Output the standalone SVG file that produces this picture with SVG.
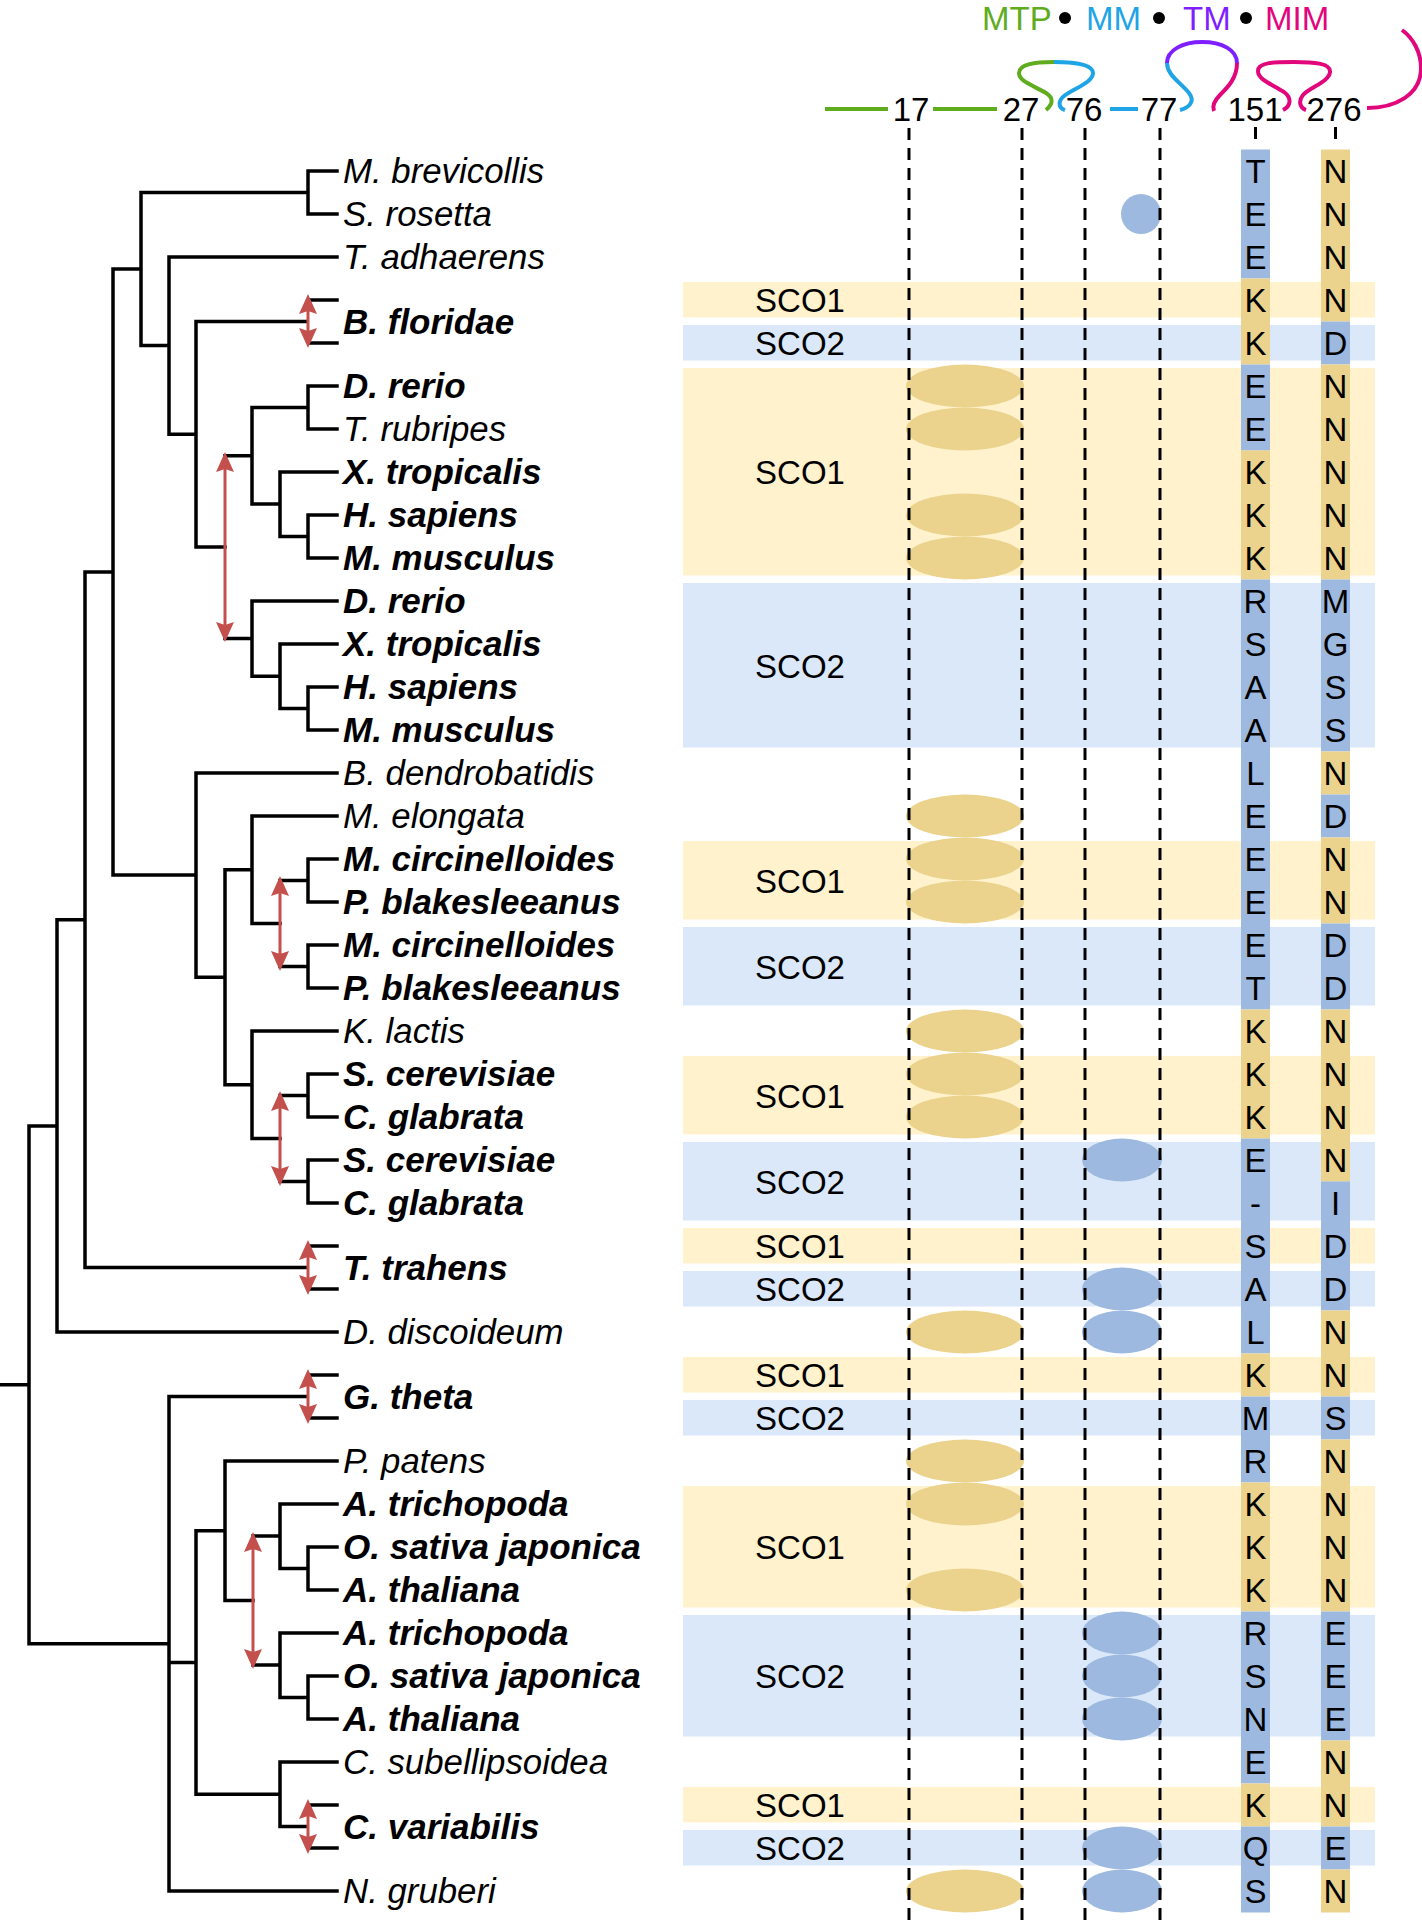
<svg xmlns="http://www.w3.org/2000/svg" width="1422" height="1925" viewBox="0 0 1422 1925">
<defs>
<marker id="ah" viewBox="0 0 20 18" refX="12" refY="9" markerWidth="20" markerHeight="18" markerUnits="userSpaceOnUse" orient="auto-start-reverse">
<path d="M0,0 L20,9 L0,18 L3,9 Z" fill="#c4504d"/>
</marker>
</defs>
<style>
text{font-family:"Liberation Sans",Arial,Helvetica,sans-serif;fill:#000}
.sp{font-size:34.8px;font-style:italic}
.b{font-weight:bold;font-size:35px}
.lab{font-size:33px;text-anchor:middle}
.num{font-size:33px;text-anchor:middle}
.by{fill:#fff2cc}
.bb{fill:#dae8f9}
.cy{fill:#ebd38d}
.cb{fill:#9db9df}
.tree{stroke:#000;stroke-width:3.5;fill:none;stroke-linecap:square}
.arr{stroke:#c4504d;stroke-width:3;fill:none;marker-start:url(#ah);marker-end:url(#ah)}
.dash{stroke:#000;stroke-width:3;stroke-dasharray:12 8;fill:none}
.hd{fill:none;stroke-width:4;stroke-linecap:butt}
.leg{font-size:33px}
</style>
<rect width="1422" height="1925" fill="#fff"/>

<g id="bands">
<rect class="by" x="683" y="282" width="692" height="35.5"/>
<rect class="bb" x="683" y="325" width="692" height="35.5"/>
<rect class="by" x="683" y="368" width="692" height="207.5"/>
<rect class="bb" x="683" y="583" width="692" height="164.5"/>
<rect class="by" x="683" y="841" width="692" height="78.5"/>
<rect class="bb" x="683" y="927" width="692" height="78.5"/>
<rect class="by" x="683" y="1056" width="692" height="78.5"/>
<rect class="bb" x="683" y="1142" width="692" height="78.5"/>
<rect class="by" x="683" y="1228" width="692" height="35.5"/>
<rect class="bb" x="683" y="1271" width="692" height="35.5"/>
<rect class="by" x="683" y="1357" width="692" height="35.5"/>
<rect class="bb" x="683" y="1400" width="692" height="35.5"/>
<rect class="by" x="683" y="1486" width="692" height="121.5"/>
<rect class="bb" x="683" y="1615" width="692" height="121.5"/>
<rect class="by" x="683" y="1787" width="692" height="35.5"/>
<rect class="bb" x="683" y="1830" width="692" height="35.5"/>
</g>

<g id="band-labels" class="lab">
<text x="800" y="312">SCO1</text>
<text x="800" y="355">SCO2</text>
<text x="800" y="484">SCO1</text>
<text x="800" y="677.5">SCO2</text>
<text x="800" y="892.5">SCO1</text>
<text x="800" y="978.5">SCO2</text>
<text x="800" y="1107.5">SCO1</text>
<text x="800" y="1193.5">SCO2</text>
<text x="800" y="1258">SCO1</text>
<text x="800" y="1301">SCO2</text>
<text x="800" y="1387">SCO1</text>
<text x="800" y="1430">SCO2</text>
<text x="800" y="1559">SCO1</text>
<text x="800" y="1688">SCO2</text>
<text x="800" y="1817">SCO1</text>
<text x="800" y="1860">SCO2</text>
</g>

<g id="col151">
<rect class="cb" x="1241" y="149.5" width="29" height="129"/>
<rect class="cy" x="1241" y="278.5" width="29" height="86"/>
<rect class="cb" x="1241" y="364.5" width="29" height="86"/>
<rect class="cy" x="1241" y="450.5" width="29" height="129"/>
<rect class="cb" x="1241" y="579.5" width="29" height="430"/>
<rect class="cy" x="1241" y="1009.5" width="29" height="129"/>
<rect class="cb" x="1241" y="1138.5" width="29" height="215"/>
<rect class="cy" x="1241" y="1353.5" width="29" height="43"/>
<rect class="cb" x="1241" y="1396.5" width="29" height="86"/>
<rect class="cy" x="1241" y="1482.5" width="29" height="129"/>
<rect class="cb" x="1241" y="1611.5" width="29" height="172"/>
<rect class="cy" x="1241" y="1783.5" width="29" height="43"/>
<rect class="cb" x="1241" y="1826.5" width="29" height="86"/>
</g>
<g id="col276">
<rect class="cy" x="1321" y="149.5" width="29" height="172"/>
<rect class="cb" x="1321" y="321.5" width="29" height="43"/>
<rect class="cy" x="1321" y="364.5" width="29" height="215"/>
<rect class="cb" x="1321" y="579.5" width="29" height="172"/>
<rect class="cy" x="1321" y="751.5" width="29" height="43"/>
<rect class="cb" x="1321" y="794.5" width="29" height="43"/>
<rect class="cy" x="1321" y="837.5" width="29" height="86"/>
<rect class="cb" x="1321" y="923.5" width="29" height="86"/>
<rect class="cy" x="1321" y="1009.5" width="29" height="172"/>
<rect class="cb" x="1321" y="1181.5" width="29" height="129"/>
<rect class="cy" x="1321" y="1310.5" width="29" height="86"/>
<rect class="cb" x="1321" y="1396.5" width="29" height="43"/>
<rect class="cy" x="1321" y="1439.5" width="29" height="172"/>
<rect class="cb" x="1321" y="1611.5" width="29" height="129"/>
<rect class="cy" x="1321" y="1740.5" width="29" height="86"/>
<rect class="cb" x="1321" y="1826.5" width="29" height="43"/>
<rect class="cy" x="1321" y="1869.5" width="29" height="43"/>
</g>

<g id="domains">
<ellipse class="cy" cx="965" cy="386" rx="59" ry="21.5"/>
<ellipse class="cy" cx="965" cy="429" rx="59" ry="21.5"/>
<ellipse class="cy" cx="965" cy="515" rx="59" ry="21.5"/>
<ellipse class="cy" cx="965" cy="558" rx="59" ry="21.5"/>
<ellipse class="cy" cx="965" cy="816" rx="59" ry="21.5"/>
<ellipse class="cy" cx="965" cy="859" rx="59" ry="21.5"/>
<ellipse class="cy" cx="965" cy="902" rx="59" ry="21.5"/>
<ellipse class="cy" cx="965" cy="1031" rx="59" ry="21.5"/>
<ellipse class="cy" cx="965" cy="1074" rx="59" ry="21.5"/>
<ellipse class="cy" cx="965" cy="1117" rx="59" ry="21.5"/>
<ellipse class="cy" cx="965" cy="1332" rx="59" ry="21.5"/>
<ellipse class="cy" cx="965" cy="1461" rx="59" ry="21.5"/>
<ellipse class="cy" cx="965" cy="1504" rx="59" ry="21.5"/>
<ellipse class="cy" cx="965" cy="1590" rx="59" ry="21.5"/>
<ellipse class="cy" cx="965" cy="1891" rx="59" ry="21.5"/>
<circle class="cb" cx="1141" cy="214" r="20"/>
<ellipse class="cb" cx="1122" cy="1160" rx="40" ry="21.5"/>
<ellipse class="cb" cx="1122" cy="1289" rx="40" ry="21.5"/>
<ellipse class="cb" cx="1122" cy="1332" rx="40" ry="21.5"/>
<ellipse class="cb" cx="1122" cy="1633" rx="40" ry="21.5"/>
<ellipse class="cb" cx="1122" cy="1676" rx="40" ry="21.5"/>
<ellipse class="cb" cx="1122" cy="1719" rx="40" ry="21.5"/>
<ellipse class="cb" cx="1122" cy="1848" rx="40" ry="21.5"/>
<ellipse class="cb" cx="1122" cy="1891" rx="40" ry="21.5"/>
</g>

<g id="guides">
<path class="dash" d="M909,128 V1925 M1022,128 V1925 M1085,128 V1925 M1160,128 V1925"/>
<path d="M1255.5,127 V139 M1335.5,127 V139" stroke="#000" stroke-width="3"/>
</g>

<g id="residues151" class="num">
<text x="1255.5" y="183">T</text>
<text x="1255.5" y="226">E</text>
<text x="1255.5" y="269">E</text>
<text x="1255.5" y="312">K</text>
<text x="1255.5" y="355">K</text>
<text x="1255.5" y="398">E</text>
<text x="1255.5" y="441">E</text>
<text x="1255.5" y="484">K</text>
<text x="1255.5" y="527">K</text>
<text x="1255.5" y="570">K</text>
<text x="1255.5" y="613">R</text>
<text x="1255.5" y="656">S</text>
<text x="1255.5" y="699">A</text>
<text x="1255.5" y="742">A</text>
<text x="1255.5" y="785">L</text>
<text x="1255.5" y="828">E</text>
<text x="1255.5" y="871">E</text>
<text x="1255.5" y="914">E</text>
<text x="1255.5" y="957">E</text>
<text x="1255.5" y="1000">T</text>
<text x="1255.5" y="1043">K</text>
<text x="1255.5" y="1086">K</text>
<text x="1255.5" y="1129">K</text>
<text x="1255.5" y="1172">E</text>
<text x="1255.5" y="1215">-</text>
<text x="1255.5" y="1258">S</text>
<text x="1255.5" y="1301">A</text>
<text x="1255.5" y="1344">L</text>
<text x="1255.5" y="1387">K</text>
<text x="1255.5" y="1430">M</text>
<text x="1255.5" y="1473">R</text>
<text x="1255.5" y="1516">K</text>
<text x="1255.5" y="1559">K</text>
<text x="1255.5" y="1602">K</text>
<text x="1255.5" y="1645">R</text>
<text x="1255.5" y="1688">S</text>
<text x="1255.5" y="1731">N</text>
<text x="1255.5" y="1774">E</text>
<text x="1255.5" y="1817">K</text>
<text x="1255.5" y="1860">Q</text>
<text x="1255.5" y="1903">S</text>
</g>
<g id="residues276" class="num">
<text x="1335.5" y="183">N</text>
<text x="1335.5" y="226">N</text>
<text x="1335.5" y="269">N</text>
<text x="1335.5" y="312">N</text>
<text x="1335.5" y="355">D</text>
<text x="1335.5" y="398">N</text>
<text x="1335.5" y="441">N</text>
<text x="1335.5" y="484">N</text>
<text x="1335.5" y="527">N</text>
<text x="1335.5" y="570">N</text>
<text x="1335.5" y="613">M</text>
<text x="1335.5" y="656">G</text>
<text x="1335.5" y="699">S</text>
<text x="1335.5" y="742">S</text>
<text x="1335.5" y="785">N</text>
<text x="1335.5" y="828">D</text>
<text x="1335.5" y="871">N</text>
<text x="1335.5" y="914">N</text>
<text x="1335.5" y="957">D</text>
<text x="1335.5" y="1000">D</text>
<text x="1335.5" y="1043">N</text>
<text x="1335.5" y="1086">N</text>
<text x="1335.5" y="1129">N</text>
<text x="1335.5" y="1172">N</text>
<text x="1335.5" y="1215">I</text>
<text x="1335.5" y="1258">D</text>
<text x="1335.5" y="1301">D</text>
<text x="1335.5" y="1344">N</text>
<text x="1335.5" y="1387">N</text>
<text x="1335.5" y="1430">S</text>
<text x="1335.5" y="1473">N</text>
<text x="1335.5" y="1516">N</text>
<text x="1335.5" y="1559">N</text>
<text x="1335.5" y="1602">N</text>
<text x="1335.5" y="1645">E</text>
<text x="1335.5" y="1688">E</text>
<text x="1335.5" y="1731">E</text>
<text x="1335.5" y="1774">N</text>
<text x="1335.5" y="1817">N</text>
<text x="1335.5" y="1860">E</text>
<text x="1335.5" y="1903">N</text>
</g>

<g id="header">
<text class="leg" x="982" y="30" style="fill:#5fac1e">MTP</text>
<circle cx="1065" cy="18" r="6"/>
<text class="leg" x="1086" y="30" style="fill:#1fa5e6">MM</text>
<circle cx="1159" cy="18" r="6"/>
<text class="leg" x="1183" y="30" style="fill:#7f1fff">TM</text>
<circle cx="1246" cy="18" r="6"/>
<text class="leg" x="1265" y="30" style="fill:#e2067c">MIM</text>
<path class="hd" stroke="#5fac1e" d="M825,109 H888 M933,109 H997"/>
<path class="hd" stroke="#5fac1e" d="M1046,110 C1053,104 1054,98 1046,93 C1035,86 1019,82 1019,73 C1019,64 1035,62 1054,62"/>
<path class="hd" stroke="#1fa5e6" d="M1054,62 C1072,62 1093,64 1093,73 C1093,83 1072,89 1064,96 C1058,101 1058,108 1065,110"/>
<path class="hd" stroke="#1fa5e6" d="M1110,109 H1138"/>
<path class="hd" stroke="#1fa5e6" d="M1180,110 C1188,108 1196,102 1189,93 C1180,82 1167,75 1167,63"/>
<path class="hd" stroke="#7f1fff" d="M1167,63 C1167,50 1183,42 1202,42 C1222,42 1237,50 1237,63"/>
<path class="hd" stroke="#e2067c" d="M1237,63 C1237,78 1228,87 1220,95 C1214,101 1212,106 1214,111"/>
<path class="hd" stroke="#e2067c" d="M1283,110 C1291,106 1292,98 1284,92 C1272,84 1258,80 1258,71 C1258,62 1275,62 1294,62 C1313,62 1331,63 1330,72 C1329,82 1310,87 1303,95 C1298,101 1300,108 1306,110"/>
<path class="hd" stroke="#e2067c" d="M1367,108 C1395,108 1421,95 1421,68 C1421,52 1413,38 1402,30"/>
<text class="num" x="911" y="121">17</text>
<text class="num" x="1021" y="121">27</text>
<text class="num" x="1084" y="121">76</text>
<text class="num" x="1159" y="121">77</text>
<text class="num" x="1255" y="121">151</text>
<text class="num" x="1334" y="121">276</text>
</g>

<g id="connectors">
<path class="tree" d="M308,171 V214 M308,171 H337 M308,214 H337 M141,192.5 H308 M169,257 H337 M141,192.5 V345.6 M141,345.6 H169 M169,257 V434.3 M169,434.3 H196 M196,321.5 V547 M196,321.5 H306 M310,300 H337 M310,343 H337 M196,547 H225 M225,455.75 H252 M225,638.6 H252 M252,407.5 V504 M252,407.5 H308 M308,386 V429 M308,386 H337 M308,429 H337 M252,504 H280 M280,472 V536.5 M280,472 H337 M280,536.5 H308 M308,515 V558 M308,515 H337 M308,558 H337 M252,601 V676.25 M252,601 H337 M252,676.25 H280 M280,644 V708.5 M280,644 H337 M280,708.5 H308 M308,687 V730 M308,687 H337 M308,730 H337 M113,269 V875 M113,269 H141 M113,875 H196 M196,773 V977.3 M196,773 H337 M196,977.3 H225 M225,869.75 V1084.75 M225,869.75 H252 M252,816 V923.5 M252,816 H337 M252,923.5 H280 M280,880.5 H308 M308,859 V902 M308,859 H337 M308,902 H337 M280,966.5 H308 M308,945 V988 M308,945 H337 M308,988 H337 M225,1084.75 H252 M252,1031 V1138.5 M252,1031 H337 M252,1138.5 H280 M280,1095.5 H308 M308,1074 V1117 M308,1074 H337 M308,1117 H337 M280,1181.5 H308 M308,1160 V1203 M308,1160 H337 M308,1203 H337 M85,572 V1267.5 M85,572 H113 M85,1267.5 H306 M310,1246 H337 M310,1289 H337 M57,919.75 V1332 M57,919.75 H85 M57,1332 H337 M29,1125.9 V1643.75 M29,1125.9 H57 M0,1384.8 H29 M29,1643.75 H169 M169,1396.5 V1891 M169,1396.5 H306 M310,1375 H337 M310,1418 H337 M169,1891 H337 M169,1662.5 H196 M196,1530.75 V1794.25 M196,1530.75 H225 M225,1461 V1600.5 M225,1461 H337 M225,1600.5 H253 M253,1536 H280 M280,1504 V1568.5 M280,1504 H337 M280,1568.5 H308 M308,1547 V1590 M308,1547 H337 M308,1590 H337 M253,1665 H280 M280,1633 V1697.5 M280,1633 H337 M280,1697.5 H308 M308,1676 V1719 M308,1676 H337 M308,1719 H337 M196,1794.25 H280 M280,1762 V1826.5 M280,1762 H337 M280,1826.5 H306 M310,1805 H337 M310,1848 H337"/>
<path class="arr" d="M308,302 V340"/>
<path class="arr" d="M225,460 V634"/>
<path class="arr" d="M280,884 V963"/>
<path class="arr" d="M280,1099 V1178"/>
<path class="arr" d="M308,1248 V1287"/>
<path class="arr" d="M308,1377 V1416"/>
<path class="arr" d="M253,1540 V1661"/>
<path class="arr" d="M308,1807 V1846"/>
</g>

<g id="taxa" class="sp">
<text x="343" y="183">M. brevicollis</text>
<text x="343" y="226">S. rosetta</text>
<text x="343" y="269">T. adhaerens</text>
<text class="b" x="343" y="333.5">B. floridae</text>
<text class="b" x="343" y="398">D. rerio</text>
<text x="343" y="441">T. rubripes</text>
<text class="b" x="343" y="484">X. tropicalis</text>
<text class="b" x="343" y="527">H. sapiens</text>
<text class="b" x="343" y="570">M. musculus</text>
<text class="b" x="343" y="613">D. rerio</text>
<text class="b" x="343" y="656">X. tropicalis</text>
<text class="b" x="343" y="699">H. sapiens</text>
<text class="b" x="343" y="742">M. musculus</text>
<text x="343" y="785">B. dendrobatidis</text>
<text x="343" y="828">M. elongata</text>
<text class="b" x="343" y="871">M. circinelloides</text>
<text class="b" x="343" y="914">P. blakesleeanus</text>
<text class="b" x="343" y="957">M. circinelloides</text>
<text class="b" x="343" y="1000">P. blakesleeanus</text>
<text x="343" y="1043">K. lactis</text>
<text class="b" x="343" y="1086">S. cerevisiae</text>
<text class="b" x="343" y="1129">C. glabrata</text>
<text class="b" x="343" y="1172">S. cerevisiae</text>
<text class="b" x="343" y="1215">C. glabrata</text>
<text class="b" x="343" y="1279.5">T. trahens</text>
<text x="343" y="1344">D. discoideum</text>
<text class="b" x="343" y="1408.5">G. theta</text>
<text x="343" y="1473">P. patens</text>
<text class="b" x="343" y="1516">A. trichopoda</text>
<text class="b" x="343" y="1559">O. sativa japonica</text>
<text class="b" x="343" y="1602">A. thaliana</text>
<text class="b" x="343" y="1645">A. trichopoda</text>
<text class="b" x="343" y="1688">O. sativa japonica</text>
<text class="b" x="343" y="1731">A. thaliana</text>
<text x="343" y="1774">C. subellipsoidea</text>
<text class="b" x="343" y="1838.5">C. variabilis</text>
<text x="343" y="1903">N. gruberi</text>
</g>
</svg>
